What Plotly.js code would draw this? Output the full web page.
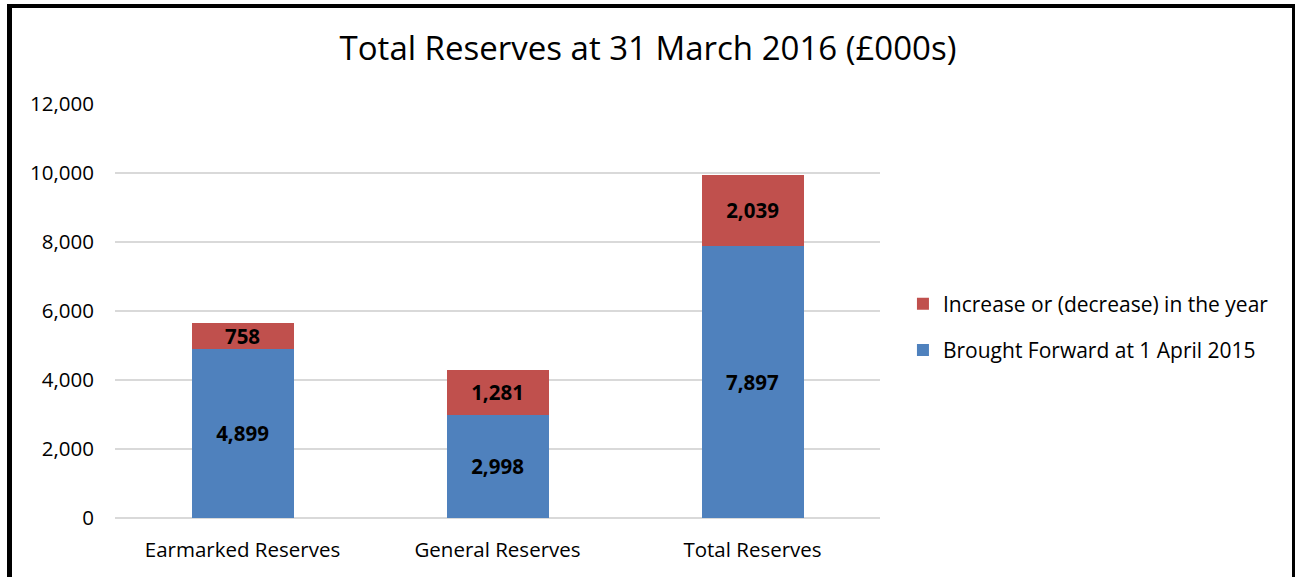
<!DOCTYPE html>
<html><head><meta charset="utf-8">
<script src="https://cdn.plot.ly/plotly-3.0.1.min.js"></script>
<style>
html,body{margin:0;padding:0;background:#fff;}
#wrap{position:absolute;left:0;top:0;width:1296px;height:577px;overflow:hidden;}
#frame{position:absolute;left:7px;top:4px;width:1280px;height:600px;border-left:5px solid #000;border-top:4px solid #000;border-right:3px solid #000;pointer-events:none;z-index:5;}
#chart{position:absolute;left:0;top:0;width:1296px;height:577px;}
</style></head>
<body><div id="wrap"><div id="chart"></div><div id="frame"></div></div>
<script>
const categories = ["Earmarked Reserves", "General Reserves", "Total Reserves"];
const broughtForward = [4899, 2998, 7897];
const increase = [758, 1281, 2039];
const seriesNames = ["Brought Forward at 1 April 2015", "Increase or (decrease) in the year"];
const yTicks = [0, 2000, 4000, 6000, 8000, 10000, 12000];

const FONT = "'Open Sans', 'Noto Sans', sans-serif";
const fmt = v => v.toLocaleString('en-GB');

const traces = [
  {type:'bar', name:seriesNames[0], x:categories, y:broughtForward, text:broughtForward.map(fmt),
   marker:{color:'#4F81BD'}, legendgroup:'a', legendrank:2},
  {type:'bar', name:seriesNames[1], x:categories, y:increase, text:increase.map(fmt),
   marker:{color:'#C0504D'}, legendgroup:'b', legendrank:1}
].map(t => Object.assign(t, {
  textposition:'inside', insidetextanchor:'middle', textangle:0, constraintext:'none',
  textfont:{family:FONT, size:20.5, color:'#000', weight:'bold'}, hoverinfo:'x+y+name'
}));

const layout = {
  width:1296, height:577,
  margin:{l:115, r:416, t:104, b:59},
  paper_bgcolor:'#fff', plot_bgcolor:'#fff',
  barmode:'stack', bargap:0.6,
  font:{family:FONT, size:20, color:'#000'},
  title:{text:'Total Reserves at 31 March 2016 (£000s)', font:{family:FONT, size:33, color:'#000'},
         x:0.5, xref:'container', xanchor:'center', y:1-48/577, yanchor:'middle'},
  xaxis:{type:'category', showgrid:false, zeroline:false, showline:false, ticks:'', tickfont:{size:20.5},
         ticklabelstandoff:17},
  yaxis:{range:[0,12000], tickvals:yTicks, ticktext:yTicks.map(fmt), showgrid:true, gridcolor:'#D9D9D9',
         gridwidth:1.5, zeroline:true, zerolinecolor:'#D9D9D9', zerolinewidth:1.5, showline:false, ticks:'',
         tickfont:{size:20.5}, ticklabelstandoff:20},
  showlegend:true,
  legend:{x:1.03, xanchor:'left', y:0.461, yanchor:'middle', font:{size:21}, tracegroupgap:16,
          itemwidth:30, traceorder:'grouped', bgcolor:'rgba(0,0,0,0)'}
};
Plotly.newPlot('chart', traces, layout, {staticPlot:true, displayModeBar:false});
</script></body></html>
